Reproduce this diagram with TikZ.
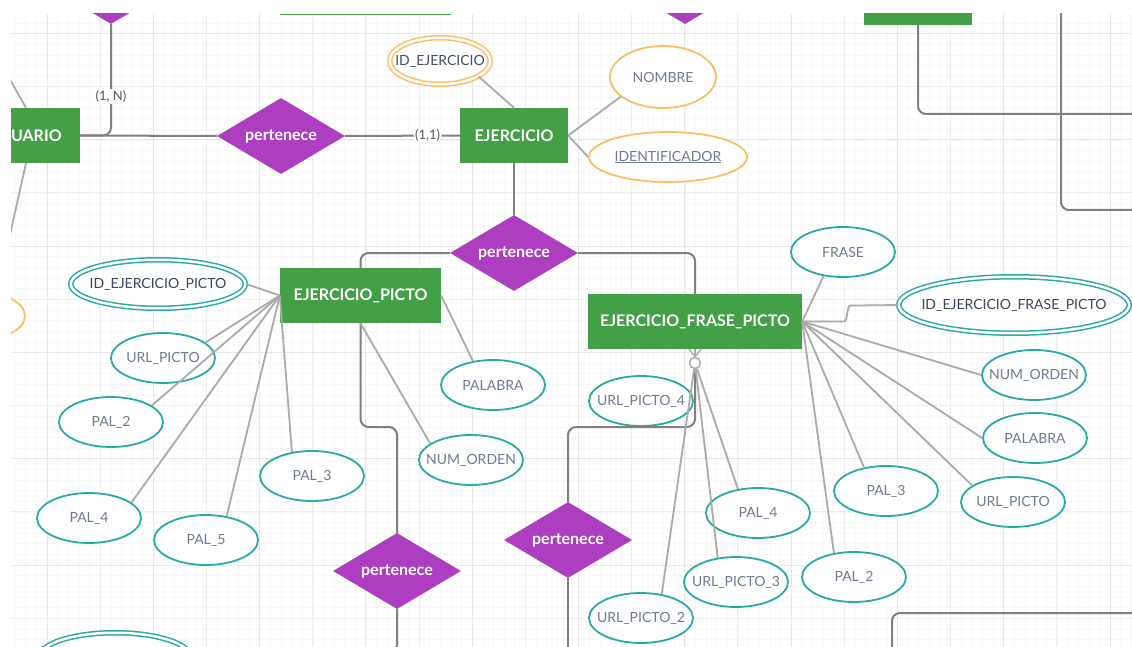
\documentclass[tikz,border=0pt]{standalone}
\usepackage{fontspec}
\setmainfont{Lato}
\usetikzlibrary{shapes.geometric,calc}
\definecolor{egreen}{HTML}{43A047}
\definecolor{rpurple}{HTML}{AD3EC0}
\definecolor{aorange}{HTML}{F9BF65}
\definecolor{ateal}{HTML}{2AAAA4}
\definecolor{lgray}{HTML}{ABABAB}
\definecolor{dgray}{HTML}{808080}
\definecolor{atext}{HTML}{6F7C90}
\definecolor{ktext}{HTML}{3C4757}
\definecolor{labtext}{HTML}{555555}
\definecolor{gminor}{HTML}{F8F8F8}
\definecolor{gmajor}{HTML}{EEEEEE}
\definecolor{gmajor2}{HTML}{E8E8E8}
\tikzset{
  entity/.style={rectangle, fill=egreen, text=white, inner sep=0pt,
    font=\bfseries\fontsize{16}{18}\selectfont},
  rel/.style={diamond, aspect=1.7, fill=rpurple, text=white, inner sep=0pt,
    minimum width=128pt, minimum height=76pt, font=\bfseries\fontsize{16}{18}\selectfont},
  attr/.style={ellipse, draw=ateal, line width=1.8pt, fill=white, text=atext,
    inner sep=0pt, font=\fontsize{14}{16}\selectfont},
  oattr/.style={attr, draw=aorange},
  kattr/.style={ellipse, draw=ateal, fill=white, line width=1.5pt, double=white,
    double distance=2.5pt, text=ktext, inner sep=0pt, font=\fontsize{14}{16}\selectfont},
  aline/.style={draw=lgray, line width=1.8pt},
  rline/.style={draw=dgray, line width=2pt, rounded corners=8pt},
  lab/.style={fill=white, text=labtext, inner sep=1.5pt, font=\fontsize{13}{15}\selectfont},
  cfoot/.style={circle, draw=lgray, fill=white, line width=1.5pt, minimum size=11pt, inner sep=0pt},
}
\newcommand{\zt}[1]{\makebox[0pt]{#1}}
\begin{document}
\begin{tikzpicture}[x=1pt,y=-1pt]
\useasboundingbox (0,0) rectangle (1132,647);
\fill[white] (0,0) rectangle (1132,647);
\begin{scope}
\clip (11,14) rectangle (1132,647);
% grid
\foreach \i in {-5,...,106} {
  \pgfmathsetmacro\gx{47+10.63*\i}
  \draw[gminor, line width=0.5pt] (\gx,14) -- (\gx,647);
}
\foreach \i in {-2,...,60} {
  \pgfmathsetmacro\gy{33.5+10.63*\i}
  \draw[gminor, line width=0.5pt] (11,\gy) -- (1132,\gy);
}
\foreach \i in {0,...,21} {
  \pgfmathsetmacro\gx{47+53.15*\i}
  \draw[gmajor, line width=1pt] (\gx,14) -- (\gx,647);
}
\foreach \i in {0,...,11} {
  \pgfmathsetmacro\gy{33.5+53.15*\i}
  \draw[gmajor, line width=1pt] (11,\gy) -- (1132,\gy);
}
\foreach \i in {0,2,...,20} {
  \pgfmathsetmacro\gx{47+53.15*\i}
  \draw[gmajor2, line width=1pt] (\gx,14) -- (\gx,647);
}
\foreach \i in {0,2,...,10} {
  \pgfmathsetmacro\gy{33.5+53.15*\i}
  \draw[gmajor2, line width=1pt] (11,\gy) -- (1132,\gy);
}

% ---------- nodes ----------
\node[rel] (toprel1) at (111,-14) {};
\node[rel] (toprel2) at (685,-14) {};
\node[entity, minimum width=108pt, minimum height=55pt] (topent) at (918,-2.5) {};
\draw[egreen, line width=1.5pt] (280,14.5) -- (451,14.5);

\node[entity, minimum width=108pt, minimum height=55pt] (usuario) at (26,135.5) {\zt{USUARIO}};
\node[rel] (rel1) at (281,136) {\zt{pertenece}};
\node[entity, minimum width=108pt, minimum height=55pt] (ej) at (514,135.5) {\zt{EJERCICIO}};
\node[kattr, draw=aorange, text=ktext!85!atext, minimum width=100.5pt, minimum height=46.5pt] (idej) at (440,61) {\zt{ID\_EJERCICIO}};
\node[oattr, minimum width=106pt, minimum height=62pt] (nombre) at (663,77) {\zt{NOMBRE}};
\node[oattr, minimum width=158pt, minimum height=50pt] (identif) at (668,157) {\zt{\underline{IDENTIFICADOR}}};
\node[oattr, minimum width=110pt, minimum height=52pt] (lefto) at (-30,316) {};

\node[rel] (rel2) at (514,253) {\zt{pertenece}};
\node[entity, minimum width=161pt, minimum height=55pt] (ep) at (360.5,295.5) {\zt{EJERCICIO\_PICTO}};
\node[entity, minimum width=214pt, minimum height=55pt] (ef) at (695,321.5) {\zt{EJERCICIO\_FRASE\_PICTO}};
\node[rel] (rel3) at (397,571) {\zt{pertenece}};
\node[rel] (rel4) at (568,540) {\zt{pertenece}};

% attributes of EJERCICIO_PICTO
\node[kattr, minimum width=174.5pt, minimum height=48.5pt] (idep) at (158,284) {\zt{ID\_EJERCICIO\_PICTO}};
\node[attr, minimum width=104pt, minimum height=50pt] (urlp) at (163,358) {\zt{URL\_PICTO}};
\node[attr, minimum width=104pt, minimum height=50pt] (pal2a) at (111,422) {\zt{PAL\_2}};
\node[attr, minimum width=104pt, minimum height=50pt] (pal4a) at (89,518) {\zt{PAL\_4}};
\node[attr, minimum width=104pt, minimum height=50pt] (pal5a) at (206,540) {\zt{PAL\_5}};
\node[attr, minimum width=104pt, minimum height=50pt] (pal3a) at (312,476) {\zt{PAL\_3}};
\node[attr, minimum width=104pt, minimum height=50pt] (palabraA) at (493,385) {\zt{PALABRA}};
\node[attr, minimum width=104pt, minimum height=50pt] (numA) at (471,460) {\zt{NUM\_ORDEN}};
\node[kattr, minimum width=151pt, minimum height=48.5pt] (idbl) at (115,657) {};

% attributes of EJERCICIO_FRASE_PICTO
\node[attr, minimum width=104pt, minimum height=50pt] (frase) at (843,252) {\zt{FRASE}};
\node[kattr, minimum width=230.5pt, minimum height=56.5pt] (idef) at (1014,305) {\zt{ID\_EJERCICIO\_FRASE\_PICTO}};
\node[attr, minimum width=104pt, minimum height=50pt] (numB) at (1034,375) {\zt{NUM\_ORDEN}};
\node[attr, minimum width=104pt, minimum height=50pt] (palabraB) at (1035,438) {\zt{PALABRA}};
\node[attr, minimum width=104pt, minimum height=50pt] (urlB) at (1013,502) {\zt{URL\_PICTO}};
\node[attr, minimum width=104pt, minimum height=50pt] (pal3b) at (886,491) {\zt{PAL\_3}};
\node[attr, minimum width=104pt, minimum height=50pt] (pal2b) at (854,577) {\zt{PAL\_2}};
\node[attr, minimum width=104pt, minimum height=50pt] (url4) at (641,401) {\zt{URL\_PICTO\_4}};
\node[attr, minimum width=104pt, minimum height=50pt] (pal4b) at (758,513) {\zt{PAL\_4}};
\node[attr, minimum width=104pt, minimum height=50pt] (url3) at (736,582) {\zt{URL\_PICTO\_3}};
\node[attr, minimum width=104pt, minimum height=50pt] (url2) at (641,618) {\zt{URL\_PICTO\_2}};

\node[cfoot] (cf) at (695,363) {};

% free ends
\coordinate (ul1) at (-5,53);
\coordinate (ul2) at (5,257);
\coordinate (tr1) at (1140,114);
\coordinate (tr2a) at (1061,0);
\coordinate (tr2b) at (1140,210);
\coordinate (br1) at (892,660);
\coordinate (br2) at (1140,613);
\coordinate (k1) at (397,427);
\coordinate (k2) at (695,427);
\coordinate (b3) at (380,652);
\coordinate (b4) at (568,660);

% ---------- relationship connectors ----------
\draw[rline] (toprel1.south) -- node[lab, pos=0.65]{(1, N)} (toprel1.south |- usuario.east) -- (usuario.east);
\draw[rline] (usuario.east) -- (rel1.west);
\draw[rline] (rel1.east) -- node[lab, pos=0.72]{(1,1)} (ej.west);
\draw[rline] (ej.south) -- (rel2.north);
\draw[rline] (rel2.west) -| (ep.north);
\draw[rline] (rel2.east) -| (ef.north);
\draw[rline] (ep.south) |- (k1) -- (rel3.north);
\draw[rline] (rel3.south) |- (b3);
\draw[rline] (rel4.north) |- (k2) -- (cf.south);
\draw[rline] (rel4.south) -- (b4);
\draw[rline] (topent.south) |- (tr1);
\draw[rline] (tr2a) |- (tr2b);
\draw[rline] (br1) |- (br2);

% crow's foot
\draw[aline, line width=1.4pt] (cf.north) -- ($(ef.south)+(-6,0)$);
\draw[aline, line width=1.4pt] (cf.north) -- (ef.south);
\draw[aline, line width=1.4pt] (cf.north) -- ($(ef.south)+(6,0)$);

% ---------- attribute connectors ----------
\draw[aline] (usuario.north) -- (ul1);
\draw[aline] (usuario.south) -- (ul2);
\draw[aline] (idej.338) -- (ej.north);
\draw[aline] (nombre.205) -- (ej.east);
\draw[aline] (identif.west) -- (ej.east);

\draw[aline] (idep.east) -- (ep.west);
\draw[aline] (urlp.20) -- (ep.west);
\draw[aline] (pal2a.22) -- (ep.west);
\draw[aline] (pal4a.20) -- (ep.west);
\draw[aline] (pal5a.49) -- (ep.west);
\draw[aline] (pal3a.130) -- (ep.west);
\draw[aline] (palabraA.130) -- (ep.east);
\draw[aline] (numA.158) -- (ep.south);

\draw[aline] (frase.231) -- (ef.east);
\draw[aline, rounded corners=6pt] (ef.east) -- ++(36,0) to[out=0,in=180] ++(18,-16) -- (idef.west);
\draw[aline] (numB.west) -- (ef.east);
\draw[aline] (palabraB.west) -- (ef.east);
\draw[aline] (urlB.158) -- (ef.east);
\draw[aline] (pal3b.133) -- (ef.east);
\draw[aline] (pal2b.130) -- (ef.east);

\draw[aline] (cf) -- (url2.49);
\draw[aline] (cf) -- (url3.127);
\draw[aline] (cf) -- (pal4b.130);
\end{scope}
\end{tikzpicture}
\end{document}
